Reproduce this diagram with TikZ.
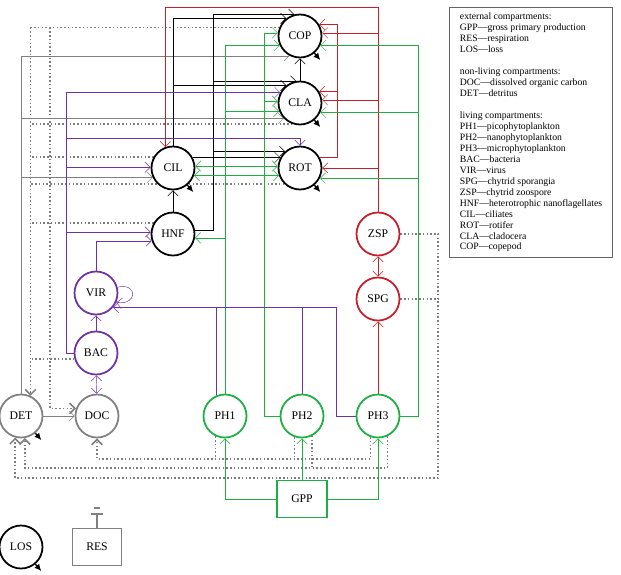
\documentclass[tikz,border=0pt]{standalone}
\usepackage{fontspec}
\setmainfont{Liberation Serif}
\usetikzlibrary{arrows.meta,backgrounds}
\definecolor{grn}{RGB}{30,175,65}
\definecolor{rd}{RGB}{200,30,40}
\definecolor{pur}{RGB}{110,50,165}
\definecolor{gry}{RGB}{128,128,128}
\definecolor{dgry}{RGB}{125,125,125}

\begin{document}
\begin{tikzpicture}[x=0.03cm,y=-0.03cm,line width=1.6pt,>={Straight Barb[length=4.5pt,width=9pt]},
comp/.style={circle,draw,fill=white,line width=1.5pt,minimum size=1.29cm,inner sep=0pt,font=\fontsize{10}{12}\selectfont},
ext/.style={rectangle,draw,fill=white,line width=1.5pt,minimum width=1.5cm,minimum height=1.11cm,font=\fontsize{10}{12}\selectfont},
dt/.style={dgry,line width=1.3pt,dash pattern=on 1.3pt off 1.9pt},
loss/.style={-{Latex[length=6pt,width=5.5pt]},line width=1.1pt}]
\useasboundingbox (0,0) rectangle (621,574);

\node[comp] at (300,36) (COP) {COP};
\node[comp] at (300,103) (CLA) {CLA};
\node[comp] at (300,168) (ROT) {ROT};
\node[comp] at (173,168) (CIL) {CIL};
\node[comp] at (173,234) (HNF) {HNF};
\node[comp,draw=pur] at (96,293) (VIR) {VIR};
\node[comp,draw=pur] at (96,353) (BAC) {BAC};
\node[comp,draw=gry] at (21,416) (DET) {DET};
\node[comp,draw=gry] at (97,416) (DOC) {DOC};
\node[comp,draw=grn] at (225,416) (PH1) {PH1};
\node[comp,draw=grn] at (302,416) (PH2) {PH2};
\node[comp,draw=grn] at (378,416) (PH3) {PH3};
\node[comp,draw=rd] at (378,234) (ZSP) {ZSP};
\node[comp,draw=rd] at (378,299) (SPG) {SPG};
\node[ext,draw=grn] at (302,499) (GPP) {GPP};
\node[comp] at (21,547) (LOS) {LOS};
\node[ext,draw=gry,minimum width=1.47cm] at (97,547) (RES) {RES};

\node[draw=dgry!80!black,line width=1pt,anchor=north west,minimum width=4.89cm,minimum height=7.5cm,align=left,inner sep=0pt,font=\fontsize{8.3}{9.35}\selectfont] (key) at (449,7) {external compartments:\\
GPP—gross primary production\\
RES—respiration\\
LOS—loss\\[9.35pt]
non-living compartments:\\
DOC—dissolved organic carbon\\
DET—detritus\\[9.35pt]
living compartments:\\
PH1—picophytoplankton\\
PH2—nanophytoplankton\\
PH3—microphytoplankton\\
BAC—bacteria\\
VIR—virus\\
SPG—chytrid sporangia\\
ZSP—chytrid zoospore\\
HNF—heterotrophic nanoflagellates\\
CIL—ciliates\\
ROT—rotifer\\
CLA—cladocera\\
COP—copepod};

\coordinate (kH) at (213,0);
\coordinate (gB) at (264,0);
\coordinate (gC) at (418,0);
\coordinate (rR) at (337,0);
\coordinate (pB) at (66,0);
\coordinate (pP) at (336,0);
\coordinate (dD) at (50,0);
\coordinate (dS) at (438,0);
\coordinate (dT) at (DET.65);
\coordinate (yR) at (0,7);
\coordinate (yP) at (0,138);
\coordinate (yA) at (0,459);
\coordinate (yB) at (0,468);
\coordinate (yC) at (0,478);

\begin{scope}[on background layer]
\draw[dt,->] (dT |- COP.158) -- (DET.65);
\draw[dt,->] (dD |- COP.158) |- (DOC.160);
\draw[dt] (COP.158) -- (dT |- COP.158);
\draw[dt] (CLA.250) -- (dT |- CLA.250);
\draw[dt] (CIL.150) -- (dT |- CIL.150);
\draw[dt] (ROT.225) -- (dT |- ROT.225);
\draw[dt] (HNF.150) -- (dT |- HNF.150);
\draw[dt] (BAC.195) -- (dT |- BAC.195);
\draw[dt,->] (PH3.251) |- (DOC.south |- yA) -- (DOC.south);
\draw[dt] (PH2.251) -- (PH2.251 |- yA);
\draw[dt] (PH1.245) -- (PH1.245 |- yA);
\draw[dt,->] (PH3.295) |- (DET.280 |- yB) -- (DET.280);
\draw[dt] (PH2.297) -- (PH2.297 |- yB);
\draw[dt,->] (ZSP.east) -| (dS |- yC) -| (DET.255);
\draw[dt] (SPG.east) -- (dS |- SPG.east);

\draw[gry,->] (DET.north) |- (COP.242);
\draw[gry,->] (DET.north |- CLA.224) -- (CLA.224);
\draw[gry,->] (DET.north |- CIL.205) -- (CIL.205);
\draw[gry,->] (DET) -- (DOC);

\draw[black,->] (CLA) -- (COP);
\draw[black,->] (HNF) -- (CIL);
\draw[black,->] (HNF.10) -| (kH |- COP.105) -- (COP.105);
\draw[black,->] (kH |- CLA.100) -- (CLA.100);
\draw[black,->] (kH |- ROT.132) -- (ROT.132);
\draw[black,->] (CIL.north) |- (COP.128);
\draw[black,->] (CIL.north |- CLA.128) -- (CLA.128);
\draw[black,->] (CIL.28) -- (ROT.152);

\draw[rd,->] (ZSP.north) |- (CIL.110 |- yR) -- (CIL.110);
\draw[rd,->] (ZSP.north |- COP.8) -- (COP.8);
\draw[rd,->] (ZSP.north |- CLA.8) -- (CLA.8);
\draw[rd,->] (ZSP.north |- ROT.east) -- (ROT.east);
\draw[rd,->] (ROT.28) -| (rR |- COP.31) -- (COP.31);
\draw[rd,->] (rR |- CLA.31) -- (CLA.31);
\draw[rd,->] (PH3) -- (SPG);
\draw[rd,<->] (SPG) -- (ZSP);

\draw[grn,->] (PH3.east) -| (gC |- COP.-25) -- (COP.-25);
\draw[grn,->] (gC |- CLA.-25) -- (CLA.-25);
\draw[grn,->] (gC |- ROT.-27) -- (ROT.-27);
\draw[grn,->] (PH2.west) -| (gB |- COP.172) -- (COP.172);
\draw[grn,->] (gB |- CLA.175) -- (CLA.175);
\draw[grn,->] (gB |- ROT.175) -- (ROT.175);
\draw[grn,->] (gB |- CIL.5) -- (CIL.5);
\draw[grn,->] (PH1.north) |- (COP.205);
\draw[grn,->] (PH1.north |- CLA.202) -- (CLA.202);
\draw[grn,->] (PH1.north |- ROT.200) -- (ROT.200);
\draw[grn,->] (PH1.north |- CIL.-20) -- (CIL.-20);
\draw[grn,->] (PH1.north |- HNF.-10) -- (HNF.-10);
\draw[grn,->] (GPP) -- (PH2);
\draw[grn,->] (GPP.west) -| (PH1.south);
\draw[grn,->] (GPP.east) -| (PH3.south);

\draw[pur,->] (BAC.west) -| (pB |- CLA.152) -- (CLA.152);
\draw[pur,->] (pB |- CIL.178) -- (CIL.178);
\draw[pur,->] (pB |- HNF.175) -- (HNF.175);
\draw[pur,->] (pB |- yP) -| (ROT.north);
\draw[pur,->] (VIR.north) |- (HNF.198);
\draw[pur,->] (BAC) -- (VIR);
\draw[pur,<->] (DOC) -- (BAC);
\draw[pur,->] (VIR.15) .. controls +(20,-5) and +(22,3) .. (VIR.-25);
\draw[pur,->] (PH3.west) -| (pP |- VIR.-40) -- (VIR.-40);
\draw[pur] (PH1.112) -- (PH1.112 |- VIR.-40);
\draw[pur] (PH2.north) -- (PH2.north |- VIR.-40);
\end{scope}

\draw[loss] (COP.-50) -- ++(6,7);
\draw[loss] (CLA.-50) -- ++(6,7);
\draw[loss] (ROT.-50) -- ++(6,7);
\draw[loss] (CIL.-50) -- ++(6,7);
\draw[loss] (DET.-50) -- ++(6,7);
\draw[loss] (LOS.-50) -- ++(6,7);

\draw[gry] (RES.north) -- ++(0,-14) ++(-6,0) -- ++(12,0) ++(-9,-6) -- ++(6,0);
\end{tikzpicture}
\end{document}
